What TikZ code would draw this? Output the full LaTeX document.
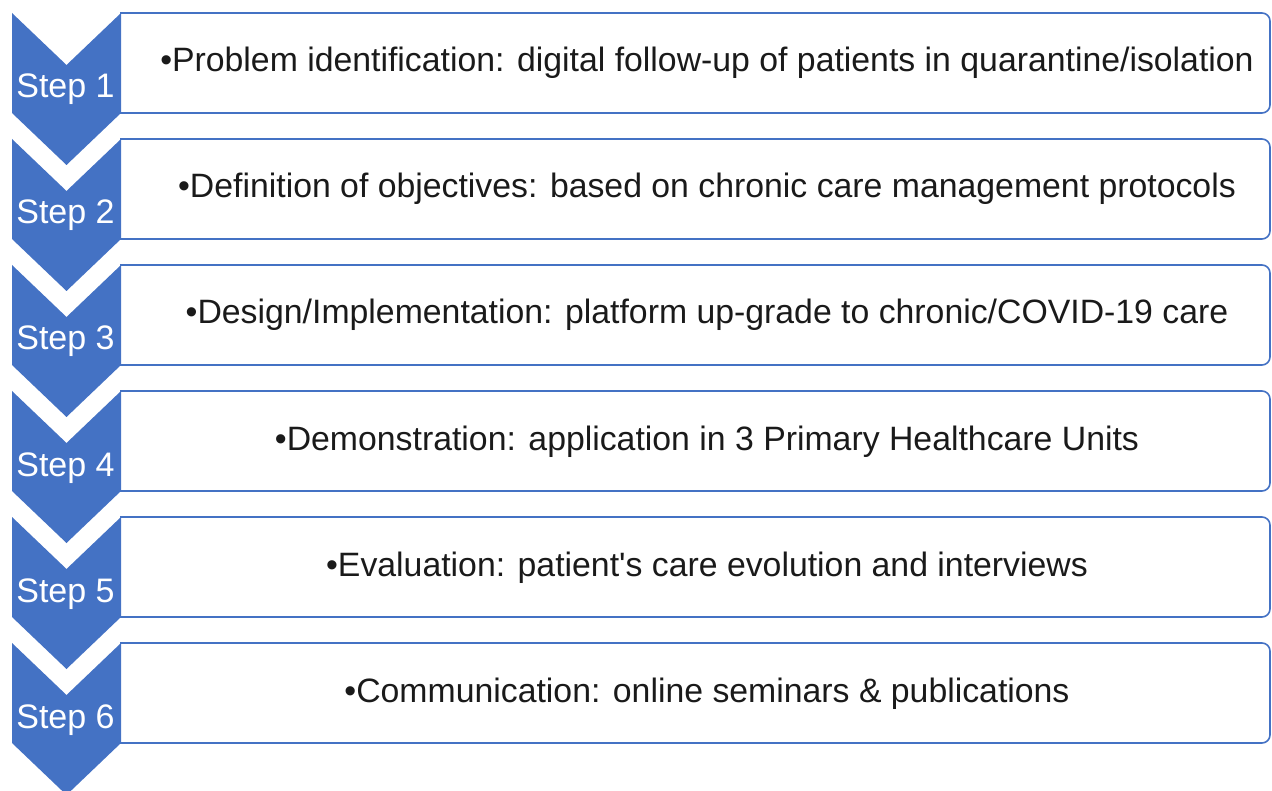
\documentclass[tikz,border=0pt]{standalone}
\usepackage{fontspec}
\setmainfont{Liberation Sans}
\definecolor{stepblue}{HTML}{4472C4}
\definecolor{ink}{HTML}{1A1A1A}
\tikzset{
  chevron/.style={fill=stepblue, draw=none},
  stepbox/.style={draw=stepblue, line width=1.6pt, rounded corners=8pt},
  steplabel/.style={text=white, font=\fontsize{34}{34}\selectfont, inner sep=0pt, anchor=base},
  stepitem/.style={text=ink, font=\fontsize{33.8}{34}\selectfont, inner sep=0pt, anchor=base}
}
\begin{document}
\begin{tikzpicture}[x=1pt,y=-1pt]
\useasboundingbox (0,0) rectangle (1272,791);
\foreach \i/\txt in {
  1/{Problem identification: digital follow-up of patients in quarantine/isolation},
  2/{Definition of objectives: based on chronic care management protocols},
  3/{Design/Implementation: platform up-grade to chronic/COVID-19 care},
  4/{Demonstration: application in 3 Primary Healthcare Units},
  5/{Evaluation: patient\textquotesingle s care evolution and interviews},
  6/{Communication: online seminars \& publications}} {
  \pgfmathsetmacro{\t}{13+126*(\i-1)}
  % chevron marker on the left
  \fill[chevron] (12,\t) -- (66.5,\t+52) -- (121,\t) -- (121,\t+100)
        -- (66.5,\t+152) -- (12,\t+100) -- cycle;
  % content box, rounded on the right side only
  \draw[stepbox] (120,\t) -- (1270,\t) -- (1270,\t+100) -- (120,\t+100);
  \node[steplabel] (s\i) at (65.5,\t+85) {Step \i};
  \node[stepitem] (b\i) at (707,\t+59) {\textbullet\txt};
}
\end{tikzpicture}
\end{document}
